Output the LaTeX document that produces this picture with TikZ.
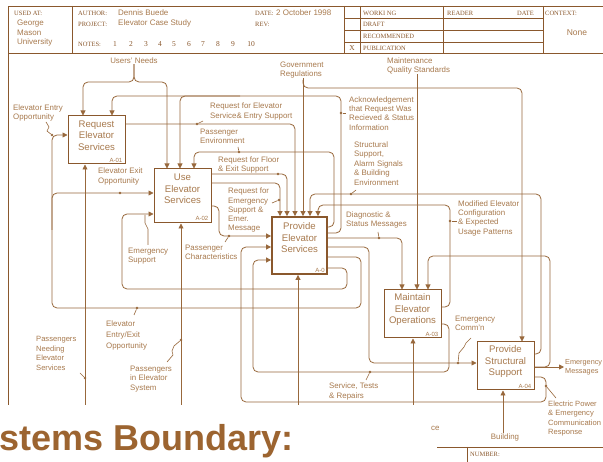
\documentclass[tikz,border=0pt]{standalone}
\usepackage{fontspec}
\setmainfont{Liberation Serif}
\setsansfont{Liberation Sans}
\usetikzlibrary{arrows.meta}
\definecolor{brn}{RGB}{152,104,60}
\definecolor{txt}{RGB}{168,122,78}
\definecolor{bx}{RGB}{138,88,45}
\definecolor{big}{RGB}{156,100,48}
\begin{document}
\begin{tikzpicture}[x=1pt,y=-1pt,
  flow/.style={draw=brn,line width=0.8pt,rounded corners=5pt},
  arr/.style={-{Triangle[length=5pt,width=5pt]}},
  lbl/.style={font=\sffamily\fontsize{7.9}{9.2}\selectfont,text=txt,align=left,anchor=north west,inner sep=0pt},
  hdr/.style={font=\rmfamily\fontsize{6.5}{8}\selectfont,text=bx,inner sep=0pt,anchor=west},
  hds/.style={font=\sffamily\fontsize{8}{9.6}\selectfont,text=txt,inner sep=0pt,anchor=west},
  box/.style={draw=bx,line width=1pt,inner sep=0pt},
  ttl/.style={font=\sffamily\fontsize{9.6}{11.5}\selectfont,text=txt,align=center,inner sep=0pt},
  num/.style={font=\sffamily\fontsize{6}{7}\selectfont,text=txt,inner sep=0pt,anchor=south east},
  dot/.style={circle,fill=brn,inner sep=0pt,minimum size=2.6pt},
  ldr/.style={draw=brn,line width=0.6pt},
  frm/.style={draw=bx,line width=0.8pt}]
\useasboundingbox (0,0) rectangle (603,462);
\fill[white] (0,0) rectangle (603,462);

% ---------- header form ----------
\draw[frm] (8,405) -- (8,6) -- (603,6);
\draw[frm] (8,53) -- (603,53);
\draw[frm] (72,6) -- (72,53);
\draw[frm] (344,6) -- (344,53);
\draw[frm] (360,6) -- (360,53);
\draw[frm] (443,6) -- (443,53);
\draw[frm] (543,6) -- (543,53);
\draw[frm] (344,18) -- (543,18);
\draw[frm] (344,30) -- (543,30);
\draw[frm] (344,42) -- (543,42);

\node[hdr] (usedat) at (14,13) {USED AT:};
\node[hds,align=left,anchor=north west] (gmu) at (17,20) {George\\Mason\\University};
\node[hdr] (author) at (78,13) {AUTHOR:};
\node[hds] (dennis) at (118,13) {Dennis Buede};
\node[hdr] (project) at (78,24) {PROJECT:};
\node[hds] (ecs) at (118,23) {Elevator Case Study};
\node[hdr] (notes) at (78,44) {NOTES:};
\foreach \n/\x in {1/115,2/131,3/146,4/160,5/174,6/189,7/203,8/218,9/233,10/251}
  \node[font=\rmfamily\fontsize{7.5}{8}\selectfont,text=bx,inner sep=0pt] (note\n) at (\x,44) {\n};
\node[hdr] (date) at (255,13) {DATE:};
\node[hds] (datev) at (276,13) {2 October 1998};
\node[hdr] (rev) at (255,24) {REV:};
\node[hdr] (working) at (363,13) {WORKI NG};
\node[hdr] (draft) at (363,24.5) {DRAFT};
\node[hdr] (recom) at (363,36) {RECOMMENDED};
\node[hdr] (public) at (363,48) {PUBLICATION};
\node[font=\rmfamily\fontsize{7.5}{8}\selectfont,text=bx,inner sep=0pt] (xmark) at (352,48) {X};
\node[hdr] (reader) at (447,13) {READER};
\node[hdr] (rdate) at (517,13) {DATE};
\node[hdr] (context) at (545,13) {CONTEXT:};
\node[font=\sffamily\fontsize{8.5}{10}\selectfont,text=txt,inner sep=0pt] (none) at (577,33) {None};

% ---------- activity boxes ----------
\node[box,minimum width=57pt,minimum height=48pt] (A1) at (96.5,140) {};
\node[ttl] (A1t) at (96.5,135.5) {Request\\Elevator\\Services};
\node[num] (A1n) at ([xshift=-3pt,yshift=2pt]A1.south east) {A-01};

\node[box,minimum width=57pt,minimum height=54pt] (A2) at (182.5,196) {};
\node[ttl] (A2t) at (182.5,189) {Use\\Elevator\\Services};
\node[num] (A2n) at ([xshift=-3pt,yshift=3pt]A2.south east) {A-02};

\node[box,line width=1.8pt,minimum width=55pt,minimum height=57pt] (A0) at (299.5,245.5) {};
\node[ttl] (A0t) at (299.5,238) {Provide\\Elevator\\Services};
\node[num] (A0n) at ([xshift=-3pt,yshift=2pt]A0.south east) {A-0};

\node[box,minimum width=57pt,minimum height=48pt] (A3) at (412.5,314) {};
\node[ttl] (A3t) at (412.5,310) {Maintain\\Elevator\\Operations};
\node[num] (A3n) at ([xshift=-3pt,yshift=2pt]A3.south east) {A-03};

\node[box,minimum width=57pt,minimum height=48pt] (A4) at (505.5,366) {};
\node[ttl] (A4t) at (505.5,362) {Provide\\Structural\\Support};
\node[num] (A4n) at ([xshift=-3pt,yshift=2pt]A4.south east) {A-04};

% ---------- labels ----------
\node[lbl,anchor=center] (UN) at (134,61) {Users' Needs};
\node[lbl] (EEO) at (13,104.5) {Elevator Entry\\Opportunity};
\node[lbl] (RES) at (210,103) {Request for Elevator\\Service\& Entry Support};
\node[lbl] (PE) at (200,129) {Passenger\\Environment};
\node[lbl] (RFF) at (218,156.5) {Request for Floor\\\& Exit Support};
\node[lbl] (EXO) at (98,168) {Elevator Exit\\Opportunity};
\node[lbl] (GR) at (280,61.5) {Government\\Regulations};
\node[lbl] (MQS) at (387,57.5) {Maintenance\\Quality Standards};
\node[lbl] (ACK) at (349,96.5) {Acknowledgement\\that Request Was\\Recieved \& Status\\Information};
\node[lbl,font=\sffamily\fontsize{7.9}{9.4}\selectfont] (SS) at (354,141.5) {Structural\\Support,\\Alarm Signals\\\& Building\\Environment};
\node[lbl] (RFE) at (228,188) {Request for\\Emergency\\Support \&\\Emer.\\Message};
\node[lbl] (DSM) at (346,211.5) {Diagnostic \&\\Status Messages};
\node[lbl] (MEC) at (458,200.5) {Modified Elevator\\Configuration\\\& Expected\\Usage Patterns};
\node[lbl] (ES) at (128,247.5) {Emergency\\Support};
\node[lbl] (PC) at (185,245) {Passenger\\Characteristics};
\node[lbl,font=\sffamily\fontsize{7.9}{11}\selectfont] (EEEO) at (106,320.5) {Elevator\\Entry/Exit\\Opportunity};
\node[lbl,font=\sffamily\fontsize{7.6}{9.4}\selectfont] (PNES) at (36,336.5) {Passengers\\Needing\\Elevator\\Services};
\node[lbl] (PIES) at (130,366) {Passengers\\in Elevator\\System};
\node[lbl] (ECN) at (455,316) {Emergency\\Comm'n};
\node[lbl] (STR) at (329,383) {Service, Tests\\\& Repairs};
\node[lbl,font=\sffamily\fontsize{7.3}{9.2}\selectfont] (EM) at (565,359) {Emergency\\Messages};
\node[lbl,font=\sffamily\fontsize{7.6}{9.2}\selectfont] (EPE) at (548,401) {Electric Power\\\& Emergency\\Communication\\Response};
\node[lbl,anchor=center] (BLD) at (505,437) {Building};
\node[lbl,anchor=west] (CE) at (431,428) {ce};

% ---------- connectors ----------
% Users' Needs (split)
\draw[flow,arr] (UN.south) -- (134,82) -- (83,82) -- (A1.north -| 83,0);
\draw[flow,arr] (UN.south) -- (134,82) -- (167,82) -- (A2.north -| 167,0);
% Acknowledgement
\draw[flow,arr] (A0.east |- 0,233) -- (341,233) -- (341,96) -- (112,96) -- (A1.north -| 112,0);
\draw[flow,arr] (240,96) -- (180,96) -- (A2.north -| 180,0);
% Request for Elevator Service & Entry Support
\draw[flow,arr] (A1.east |- 0,124) -- (295,124) -- (A0.north -| 295,0);
% Passenger Environment
\draw[flow,arr] (A0.east |- 0,227) -- (334,227) -- (334,152) -- (194,152) -- (A2.north -| 194,0);
% Request for Floor & Exit Support
\draw[flow,arr] (A2.east |- 0,174) -- (287,174) -- (A0.north -| 287,0);
% Request for Emergency Support
\draw[flow,arr] (A2.east |- 0,183) -- (280,183) -- (A0.north -| 280,0);
% Government Regulations
\draw[flow,arr] (GR.south -| 303,0) -- (A0.north -| 303,0);
\draw[flow,arr] (303,80) -- (303,88) -- (522,88) -- (A4.north -| 522,0);
% Structural Support...
\draw[flow,arr] (A4.east |- 0,354) -- (541,354) -- (541,194) -- (310,194) -- (A0.north -| 310,0);
% Modified Elevator Configuration
\draw[flow,arr] (A3.east |- 0,307) -- (450,307) -- (450,205) -- (318,205) -- (A0.north -| 318,0);
% Diagnostic & Status Messages
\draw[flow,arr] (A0.east |- 0,238) -- (402,238) -- (A3.north -| 402,0);
% Maintenance Quality Standards
\draw[flow,arr] (MQS.south -| 417,0) -- (A3.north -| 417,0);
% A-04 to A-03
\draw[flow,arr] (A4.east |- 0,367) -- (550,367) -- (550,256) -- (428,256) -- (A3.north -| 428,0);
% Emergency Messages
\coordinate (EMe) at (564,367);
\draw[flow,arr] (A4.east |- 0,367) -- (EMe);
% Electric Power & Emergency Communication Response
\draw[flow,arr] (A4.east |- 0,377) -- (546,377) -- (546,402) -- (241,402) -- (241,247) -- (A0.west |- 0,247);
% Service, Tests & Repairs
\draw[flow,arr] (A3.east |- 0,324) -- (449,324) -- (449,372) -- (253,372) -- (253,260) -- (A0.west |- 0,260);
% Emergency Comm'n
\draw[flow,arr] (A0.east |- 0,247) -- (369,247) -- (369,363) -- (A4.west |- 0,363);
% Elevator Exit / Entry opportunity loop
\draw[flow,arr] (A0.east |- 0,257) -- (361,257) -- (361,308) -- (52,308) -- (52,135) -- (A1.west |- 0,135);
\draw[flow,arr] (52,230) -- (52,193) -- (A2.west |- 0,193);
% Emergency Support loop
\draw[flow,arr] (A0.east |- 0,268) -- (347,268) -- (347,289) -- (122,289) -- (122,214) -- (A2.west |- 0,214);
% Passenger Characteristics
\draw[flow,arr] (A2.east |- 0,206) -- (219,206) -- (219,236) -- (A0.west |- 0,236);
% inputs / mechanisms from below
\draw[flow,arr] (85,405) -- (A1.south -| 85,0);
\draw[flow,arr] (181,405) -- (A2.south -| 181,0);
\draw[flow,arr] (298,405) -- (A0.south -| 298,0);
\draw[flow,arr] (413,405) -- (A3.south -| 413,0);
\draw[flow,arr] (BLD.north -| 503,0) -- (A4.south -| 503,0);

% ---------- label dots and leaders ----------
\node[dot] (d1) at (341,113) {};  \draw[ldr] (d1) -- (346,113);
\node[dot] (d2) at (197,124) {};  \draw[ldr] (d2) -- (203,121);
\node[dot] (d3) at (239,152) {};  \draw[ldr] (d3) -- (238,147);
\node[dot] (d4) at (278,174) {};
\node[dot] (d5) at (279,200) {};  \draw[ldr] (d5) -- (272,203);
\node[dot] (d6) at (351,194) {};  \draw[ldr] (d6) -- (356,190);
\node[dot] (d7) at (450,221) {};  \draw[ldr] (d7) -- (457,221);
\node[dot] (d8) at (379,238) {};  \draw[ldr] (d8) -- (378,232);
\node[dot] (d9) at (120,193) {};
\node[dot] (d10) at (52,135) {};  \draw[ldr] (d10) -- (47,131) -- (49,127) -- (46,122);
\draw[ldr] (145,215) -- (145,223) -- (148,229) -- (148,245);
\node[dot] (d11) at (229,236) {}; \draw[ldr] (d11) -- (225,242);
\node[dot] (d12) at (137,308) {}; \draw[ldr] (d12) -- (134,315);
\node[dot] (d13) at (85,378) {};  \draw[ldr] (d13) -- (80,373);
\node[dot] (d14) at (181,340) {}; \draw[ldr] (d14) -- (174,346) -- (172,351) -- (173,355) -- (167,362);
\node[dot] (d15) at (458,363) {}; \draw[ldr] (d15) -- (459,353) -- (464,347) -- (466,343) -- (471,338);
\node[dot] (d16) at (370,372) {}; \draw[ldr] (d16) -- (366,380);
\node[dot] (d17) at (546,386) {}; \draw[ldr] (d17) -- (556,398);

% ---------- bottom overlay ----------
\node[font=\sffamily\bfseries\fontsize{36}{40}\selectfont,text=big,anchor=base east,inner sep=0pt] (SB) at (294,450) {stems Boundary:};
\draw[frm] (437,447) -- (603,447);
\draw[frm] (467,447) -- (467,462);
\node[hdr] (number) at (470,454) {NUMBER:};
\end{tikzpicture}
\end{document}
